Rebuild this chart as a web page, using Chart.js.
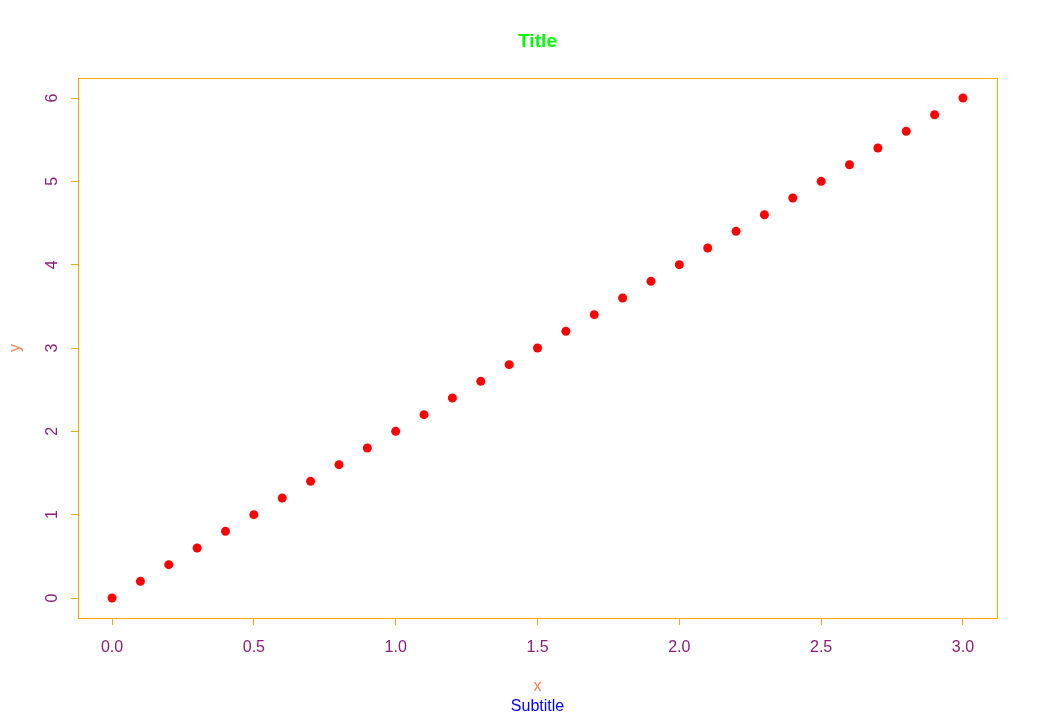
<!DOCTYPE html>
<html>
<head>
<meta charset="utf-8">
<script src="https://cdn.jsdelivr.net/npm/chart.js@4/dist/chart.umd.min.js"></script>
<style>
  html, body { margin: 0; padding: 0; background: #fff; }
  #wrap { width: 1038px; height: 715px; }
</style>
</head>
<body>
<div id="wrap"><canvas id="plot"></canvas></div>
<script>
// values
const xValues = [0.0, 0.1, 0.2, 0.3, 0.4, 0.5, 0.6, 0.7, 0.8, 0.9, 1.0,
  1.1, 1.2, 1.3, 1.4, 1.5, 1.6, 1.7, 1.8, 1.9, 2.0,
  2.1, 2.2, 2.3, 2.4, 2.5, 2.6, 2.7, 2.8, 2.9, 3.0];
const yValues = [0.0, 0.2, 0.4, 0.6, 0.8, 1.0, 1.2, 1.4, 1.6, 1.8, 2.0,
  2.2, 2.4, 2.6, 2.8, 3.0, 3.2, 3.4, 3.6, 3.8, 4.0,
  4.2, 4.4, 4.6, 4.8, 5.0, 5.2, 5.4, 5.6, 5.8, 6.0];
const xTicks = [0.0, 0.5, 1.0, 1.5, 2.0, 2.5, 3.0];
const yTicks = [0, 1, 2, 3, 4, 5, 6];

const boxColor = "#FFA500";
const tickTextColor = "#8B1E78";
const labelColor = "#FF7F50";
const font = "'Liberation Sans', Arial, sans-serif";

const points = xValues.map((x, i) => ({ x: x, y: yValues[i] }));

// R style box around the plot region
const boxPlugin = {
  id: "box",
  afterDraw(chart) {
    const a = chart.chartArea;
    const ctx = chart.ctx;
    ctx.save();
    ctx.strokeStyle = boxColor;
    ctx.lineWidth = 1;
    ctx.strokeRect(Math.round(a.left) + 0.5, Math.round(a.top) + 0.5,
      Math.round(a.right - a.left), Math.round(a.bottom - a.top));
    ctx.restore();
  }
};

new Chart(document.getElementById("plot"), {
  type: "scatter",
  data: {
    datasets: [{
      data: points,
      backgroundColor: "#FF0000",
      borderColor: "#FF0000",
      pointRadius: 4.5,
      pointHoverRadius: 4.5,
      borderWidth: 0
    }]
  },
  options: {
    responsive: true,
    maintainAspectRatio: false,
    animation: false,
    layout: { padding: { left: 0, right: 41, top: 0, bottom: 0 } },
    plugins: {
      legend: { display: false },
      tooltip: { enabled: false },
      title: {
        display: true,
        fullSize: false,
        text: "Title",
        color: "#00FF00",
        font: { family: font, size: 19.2, weight: "bold", lineHeight: 1.2 },
        padding: { top: 30.5, bottom: 24.5 }
      },
      subtitle: {
        display: true,
        fullSize: false,
        position: "bottom",
        text: "Subtitle",
        color: "#0000FF",
        font: { family: font, size: 16, lineHeight: 1.0 },
        padding: { top: 0, bottom: 0 }
      }
    },
    scales: {
      x: {
        type: "linear",
        min: -0.12,
        max: 3.12,
        afterBuildTicks(scale) {
          scale.ticks = xTicks.map(v => ({ value: v }));
        },
        afterFit(scale) { scale.height = 81; },
        grid: {
          drawOnChartArea: false,
          color: boxColor,
          tickLength: 7,
          tickColor: boxColor
        },
        border: { display: false },
        ticks: {
          color: tickTextColor,
          font: { family: font, size: 16 },
          padding: 13,
          maxRotation: 0,
          callback: v => v.toFixed(1)
        },
        title: {
          display: true,
          text: "x",
          color: labelColor,
          font: { family: font, size: 16, lineHeight: 1.2 },
          padding: { top: 0, bottom: 2.6 }
        }
      },
      y: {
        type: "linear",
        min: -0.24,
        max: 6.24,
        afterBuildTicks(scale) {
          scale.ticks = yTicks.map(v => ({ value: v }));
        },
        afterFit(scale) { scale.width = 78; },
        grid: {
          drawOnChartArea: false,
          color: boxColor,
          tickLength: 7,
          tickColor: boxColor
        },
        border: { display: false },
        ticks: {
          color: tickTextColor,
          font: { family: font, size: 16 },
          padding: 14,
          minRotation: 90,
          maxRotation: 90,
          crossAlign: "center",
          callback: v => String(v)
        },
        title: {
          display: true,
          text: "y",
          color: labelColor,
          font: { family: font, size: 16, lineHeight: 1.2 },
          padding: { top: 6.4, bottom: 0 }
        }
      }
    }
  },
  plugins: [boxPlugin]
});
</script>
</body>
</html>
